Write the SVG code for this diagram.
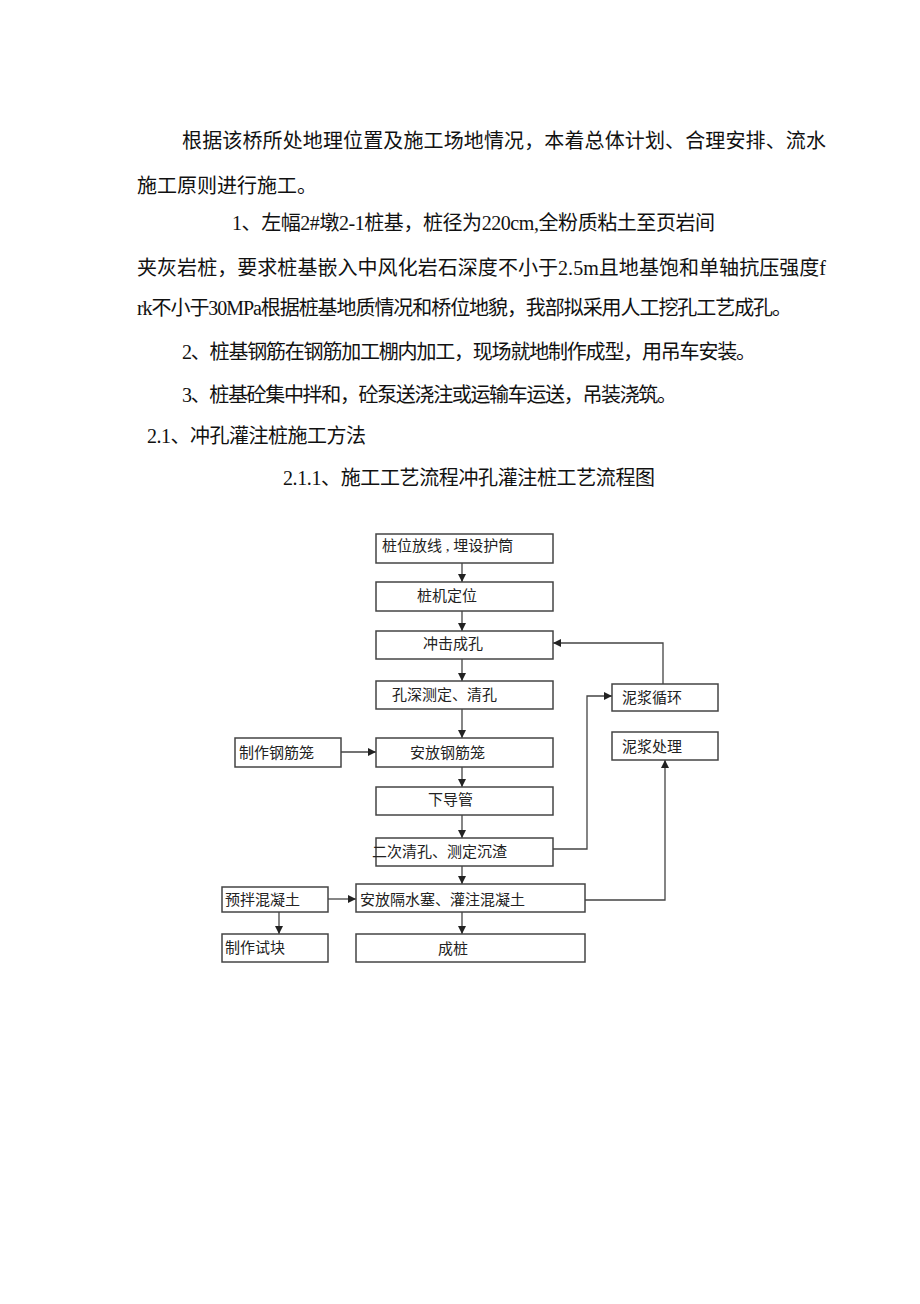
<svg xmlns="http://www.w3.org/2000/svg" width="920" height="1304" viewBox="0 0 920 1304">
<defs>
<style>
.body{font-family:"Liberation Serif","Noto Sans CJK SC",serif;font-size:20px;fill:#111}
.lbl{font-family:"Liberation Serif","Noto Sans CJK SC",serif;font-size:15px;fill:#222}
.box{fill:#fff;stroke:#444;stroke-width:1.5}
.con{fill:none;stroke:#444;stroke-width:1.3}
</style>
<marker id="ah" viewBox="0 0 10 10" refX="10" refY="5" markerWidth="8" markerHeight="8" markerUnits="userSpaceOnUse" orient="auto">
<path d="M0,0 L10,5 L0,10 Z" fill="#222"/>
</marker>
</defs>
<rect width="920" height="1304" fill="#fff"/>
<g id="text-body">
<text class="body" x="182" y="148" textLength="644">根据该桥所处地理位置及施工场地情况，本着总体计划、合理安排、流水</text>
<text class="body" x="137" y="193">施工原则进行施工。</text>
<text class="body" x="232" y="230" textLength="483">1、左幅2#墩2-1桩基，桩径为220cm,全粉质粘土至页岩间</text>
<text class="body" x="137" y="275" textLength="689">夹灰岩桩，要求桩基嵌入中风化岩石深度不小于2.5m且地基饱和单轴抗压强度f</text>
<text class="body" x="137" y="315" textLength="655">rk不小于30MPa根据桩基地质情况和桥位地貌，我部拟采用人工挖孔工艺成孔。</text>
<text class="body" x="182" y="359" textLength="574">2、桩基钢筋在钢筋加工棚内加工，现场就地制作成型，用吊车安装。</text>
<text class="body" x="182" y="402" textLength="495">3、桩基砼集中拌和，砼泵送浇注或运输车运送，吊装浇筑。</text>
<text class="body" x="147" y="443" textLength="219">2.1、冲孔灌注桩施工方法</text>
<text class="body" x="283" y="485" textLength="372">2.1.1、施工工艺流程冲孔灌注桩工艺流程图</text>
</g>
<g id="connectors">
<line class="con" x1="462" y1="563" x2="462" y2="582" marker-end="url(#ah)"/>
<line class="con" x1="462" y1="611" x2="462" y2="631" marker-end="url(#ah)"/>
<line class="con" x1="462" y1="659" x2="462" y2="681" marker-end="url(#ah)"/>
<line class="con" x1="462" y1="709" x2="462" y2="738" marker-end="url(#ah)"/>
<line class="con" x1="462" y1="767" x2="462" y2="787" marker-end="url(#ah)"/>
<line class="con" x1="462" y1="815" x2="462" y2="838" marker-end="url(#ah)"/>
<line class="con" x1="462" y1="866" x2="462" y2="884" marker-end="url(#ah)"/>
<line class="con" x1="462" y1="912" x2="462" y2="934" marker-end="url(#ah)"/>
<line class="con" x1="341" y1="752" x2="376" y2="752" marker-end="url(#ah)"/>
<line class="con" x1="328" y1="899" x2="356" y2="899" marker-end="url(#ah)"/>
<line class="con" x1="279" y1="912" x2="279" y2="934" marker-end="url(#ah)"/>
<polyline class="con" points="663,684 663,643 553,643" marker-end="url(#ah)"/>
<polyline class="con" points="553,849 587,849 587,696 612,696" marker-end="url(#ah)"/>
<polyline class="con" points="585,900 665,900 665,760" marker-end="url(#ah)"/>
</g>
<g id="n1"><rect class="box" x="376" y="534" width="177" height="29"/><text class="lbl" x="382" y="551">桩位放线 , 埋设护筒</text></g>
<g id="n2"><rect class="box" x="376" y="582" width="177" height="29"/><text class="lbl" x="417" y="601">桩机定位</text></g>
<g id="n3"><rect class="box" x="376" y="631" width="177" height="28"/><text class="lbl" x="423" y="649">冲击成孔</text></g>
<g id="n4"><rect class="box" x="376" y="681" width="177" height="28"/><text class="lbl" x="392" y="700">孔深测定、清孔</text></g>
<g id="n5"><rect class="box" x="376" y="738" width="177" height="29"/><text class="lbl" x="410" y="758">安放钢筋笼</text></g>
<g id="n6"><rect class="box" x="376" y="787" width="177" height="28"/><text class="lbl" x="428" y="805">下导管</text></g>
<g id="n7"><rect class="box" x="376" y="838" width="177" height="28"/><text class="lbl" x="372" y="857">二次清孔、测定沉渣</text></g>
<g id="n8"><rect class="box" x="356" y="884" width="229" height="28"/><text class="lbl" x="360" y="905">安放隔水塞、灌注混凝土</text></g>
<g id="n9"><rect class="box" x="356" y="934" width="229" height="28"/><text class="lbl" x="438" y="954">成桩</text></g>
<g id="n10"><rect class="box" x="235" y="738" width="106" height="29"/><text class="lbl" x="239" y="758">制作钢筋笼</text></g>
<g id="n11"><rect class="box" x="222" y="887" width="106" height="25"/><text class="lbl" x="225" y="905">预拌混凝土</text></g>
<g id="n12"><rect class="box" x="222" y="934" width="106" height="28"/><text class="lbl" x="225" y="953">制作试块</text></g>
<g id="n13"><rect class="box" x="612" y="684" width="106" height="27"/><text class="lbl" x="622" y="703">泥浆循环</text></g>
<g id="n14"><rect class="box" x="612" y="732" width="106" height="28"/><text class="lbl" x="622" y="752">泥浆处理</text></g>
</svg>
